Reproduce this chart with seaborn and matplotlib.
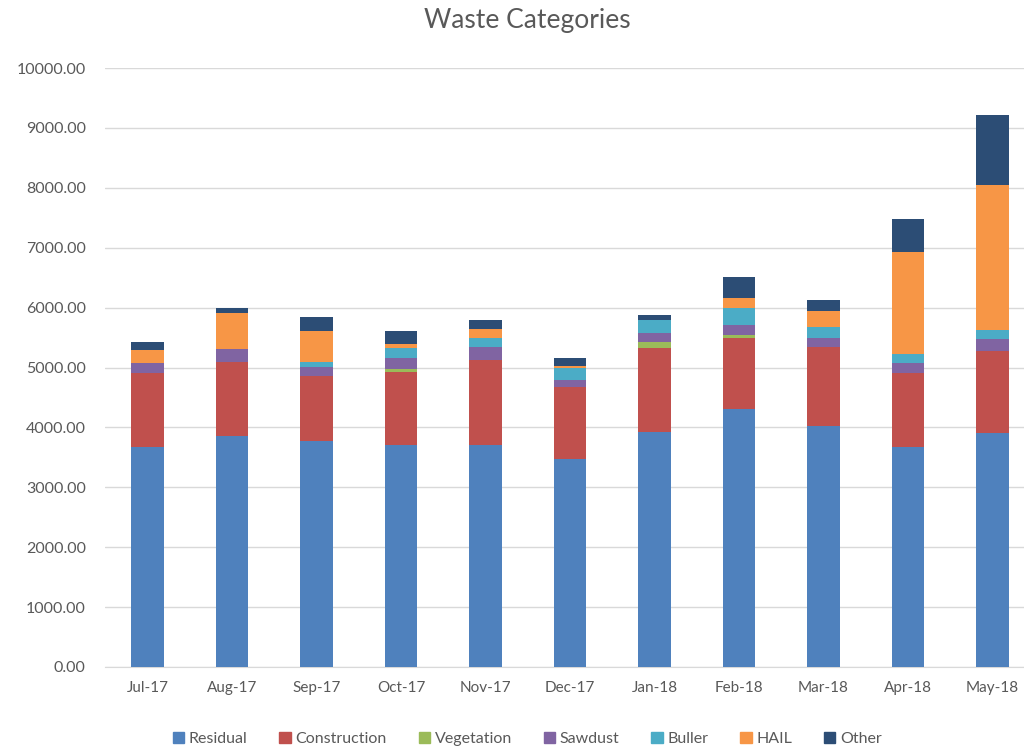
import numpy as np
import matplotlib.pyplot as plt
import matplotlib.patches as mpatches
from matplotlib.ticker import FuncFormatter
import pandas as pd
import seaborn as sns

# data
months = ['Jul-17', 'Aug-17', 'Sep-17', 'Oct-17', 'Nov-17', 'Dec-17',
          'Jan-18', 'Feb-18', 'Mar-18', 'Apr-18', 'May-18']
residual = [3670, 3860, 3780, 3710, 3710, 3480, 3930, 4300, 4030, 3670, 3900]
construction = [1230, 1230, 1080, 1220, 1410, 1200, 1390, 1200, 1320, 1230, 1380]
vegetation = [0, 0, 0, 40, 0, 0, 110, 40, 0, 0, 0]
sawdust = [180, 220, 150, 195, 230, 110, 145, 175, 150, 180, 190]
buller = [0, 0, 80, 155, 150, 195, 225, 270, 180, 150, 155]
hail = [220, 605, 525, 65, 150, 35, 0, 180, 270, 1690, 2420]
other = [120, 75, 225, 225, 150, 145, 70, 345, 180, 565, 1165]

categories = ['Residual', 'Construction', 'Vegetation', 'Sawdust', 'Buller', 'HAIL', 'Other']
colors = ['#4F81BD', '#C0504D', '#9BBB59', '#8064A2', '#4BACC6', '#F79646', '#2C4D75']

df = pd.DataFrame({'Month': months, 'Residual': residual, 'Construction': construction,
                   'Vegetation': vegetation, 'Sawdust': sawdust, 'Buller': buller,
                   'HAIL': hail, 'Other': other})
cum = df[categories].cumsum(axis=1)
cum['Month'] = months

sns.set_style('white')
plt.rcParams['font.family'] = ['Lato', 'DejaVu Sans']

fig = plt.figure(figsize=(10.24, 7.49), dpi=100)
# plot area runs off the right edge, like the cropped original
ax = fig.add_axes([105.25 / 1024, 82 / 749, 929.5 / 1024, 599 / 749])

# stacked bars: draw running totals from the top segment down
for cat, col in reversed(list(zip(categories, colors))):
    sns.barplot(data=cum, x='Month', y=cat, color=col, width=0.39,
                saturation=1, ax=ax, zorder=3, linewidth=0)

ax.set_ylim(0, 10000)
ax.set_yticks(np.arange(0, 10001, 1000))
ax.yaxis.set_major_formatter(FuncFormatter(lambda v, p: f'{v:.2f}'))
ax.grid(axis='y', color='#D9D9D9', linewidth=1, zorder=0)
ax.set_axisbelow(True)
for s in ['top', 'right', 'left']:
    ax.spines[s].set_visible(False)
ax.spines['bottom'].set_color('#D9D9D9')
ax.tick_params(axis='x', length=0, labelsize=11, colors='#595959', pad=10)
ax.tick_params(axis='y', length=0, labelsize=11.5, colors='#595959', pad=14)
ax.set_xlabel('')
ax.set_ylabel('')

fig.text(0.515, 0.972, 'Waste Categories', ha='center', va='center',
         fontsize=19, color='#595959')

handles = [mpatches.Patch(color=c, label=l) for l, c in zip(categories, colors)]
fig.legend(handles=handles, loc='center', bbox_to_anchor=(0.515, 0.013), ncol=7,
           frameon=False, fontsize=11.5, handlelength=0.7, handleheight=0.7,
           handletextpad=0.3, columnspacing=2.0, labelcolor='#595959')

fig.savefig('out.png', dpi=100)
